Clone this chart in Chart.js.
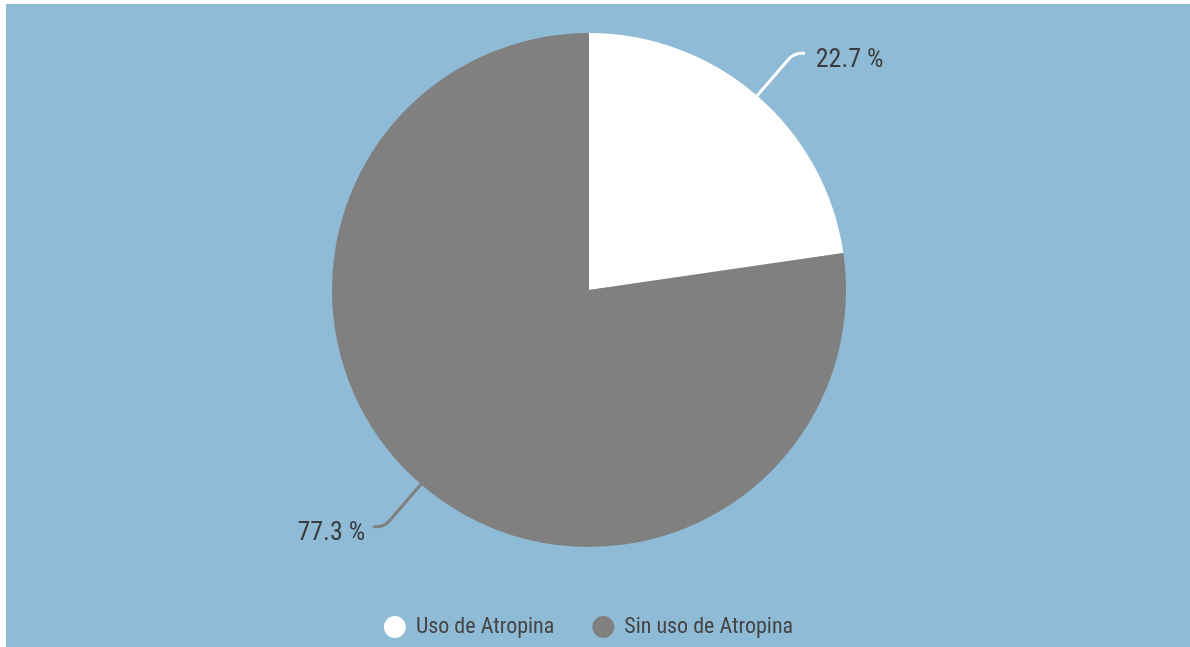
<!DOCTYPE html>
<html>
<head>
<meta charset="utf-8">
<script src="https://cdn.jsdelivr.net/npm/chart.js@4.4.1/dist/chart.umd.min.js"></script>
<style>
  html, body { margin: 0; padding: 0; background: #ffffff; overflow: hidden; }
  #wrap { position: absolute; left: 0; top: 0; width: 1190px; height: 647px; }
</style>
</head>
<body>
<div id="wrap"><canvas id="chart" width="1190" height="647"></canvas></div>
<script>
// Share of patients with / without atropine use (percent)
const categories = ['Uso de Atropina', 'Sin uso de Atropina'];
const shares = [22.7, 77.3];
const sliceColors = ['#ffffff', '#808080'];
const valueLabels = shares.map(v => v.toFixed(1) + ' %');

const FONT = "'Roboto Condensed', 'Liberation Sans Narrow', Roboto, sans-serif";

// Light blue panel behind the chart
const panelBackground = {
  id: 'panelBackground',
  beforeDraw(chart) {
    const ctx = chart.ctx;
    ctx.save();
    ctx.fillStyle = '#8fbbd6';
    ctx.fillRect(6, 4, chart.width - 6, chart.height - 4);
    ctx.restore();
  }
};

// Percentage labels with curved leader lines outside each slice
const sliceLabels = {
  id: 'sliceLabels',
  afterDatasetsDraw(chart) {
    const ctx = chart.ctx;
    const meta = chart.getDatasetMeta(0);
    meta.data.forEach((arc, i) => {
      const p = arc.getProps(['x', 'y', 'startAngle', 'endAngle', 'outerRadius'], true);
      const mid = (p.startAngle + p.endAngle) / 2;
      const dx = Math.cos(mid), dy = Math.sin(mid);
      const side = dx >= 0 ? 1 : -1;
      const sx = p.x + dx * (p.outerRadius - 14), sy = p.y + dy * (p.outerRadius - 14);
      const cx = p.x + dx * (p.outerRadius + 56), cy = p.y + dy * (p.outerRadius + 56);
      const bend = 8;
      ctx.save();
      ctx.beginPath();
      ctx.moveTo(sx, sy);
      ctx.lineTo(cx - dx * bend, cy - dy * bend);
      ctx.quadraticCurveTo(cx, cy, cx + side * bend, cy);
      ctx.lineTo(cx + side * 10, cy);
      ctx.strokeStyle = sliceColors[i];
      ctx.lineWidth = 3;
      ctx.lineCap = 'round';
      ctx.lineJoin = 'round';
      ctx.stroke();

      ctx.font = '26px ' + FONT;
      ctx.fillStyle = '#3b3b3b';
      ctx.textAlign = side > 0 ? 'left' : 'right';
      ctx.textBaseline = 'alphabetic';
      ctx.fillText(valueLabels[i], cx + side * (side > 0 ? 22 : 19), cy + 13.5);
      ctx.restore();
    });
  }
};

Chart.defaults.font.family = FONT;

new Chart(document.getElementById('chart'), {
  type: 'pie',
  data: {
    labels: categories,
    datasets: [{
      data: shares,
      backgroundColor: sliceColors,
      borderWidth: 0,
      radius: 257
    }]
  },
  options: {
    responsive: false,
    animation: false,
    layout: { padding: { top: 3, bottom: -1, left: 0, right: 12 } },
    plugins: {
      tooltip: { enabled: false },
      legend: {
        position: 'bottom',
        labels: {
          usePointStyle: true,
          pointStyle: 'circle',
          boxWidth: 20,
          boxHeight: 15.5,
          padding: 39,
          color: '#444444',
          font: { size: 22, family: FONT }
        }
      }
    }
  },
  plugins: [panelBackground, sliceLabels]
});
</script>
</body>
</html>
